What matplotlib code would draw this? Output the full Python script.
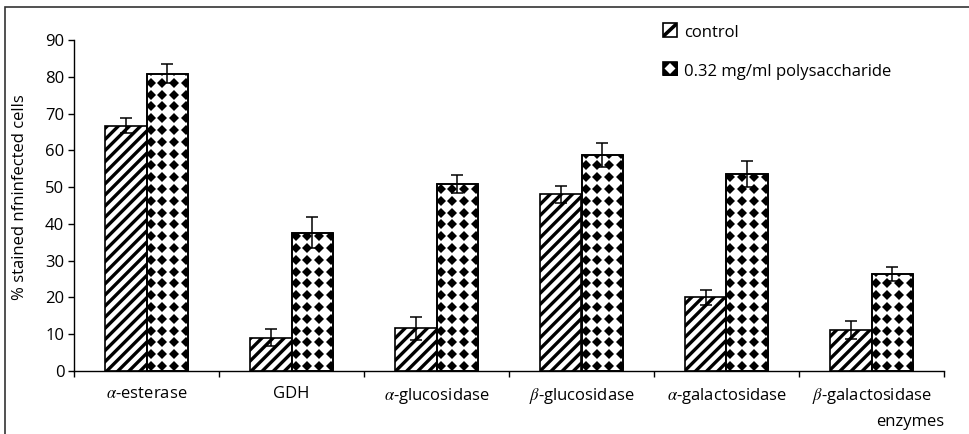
import numpy as np
import matplotlib
matplotlib.use("Agg")
import matplotlib.pyplot as plt
from matplotlib.patches import Rectangle
from matplotlib.legend_handler import HandlerBase

plt.rcParams['font.family'] = ['Open Sans', 'DejaVu Sans']
plt.rcParams['mathtext.fontset'] = 'stix'
plt.rcParams['hatch.linewidth'] = 2.4

# enzyme groups and % stained cells (mean, error)
enzymes = [r'$\alpha$-esterase', 'GDH', r'$\alpha$-glucosidase',
           r'$\beta$-glucosidase', r'$\alpha$-galactosidase', r'$\beta$-galactosidase']
control = [66.7, 9.1, 11.6, 48.0, 20.0, 11.1]
control_err = [2.0, 2.3, 3.1, 2.2, 2.0, 2.5]
poly = [80.8, 37.6, 50.8, 58.8, 53.6, 26.4]
poly_err = [2.6, 4.2, 2.5, 3.3, 3.5, 1.9]
series = ['control', '0.32 mg/ml polysaccharide']
yticks = [0, 10, 20, 30, 40, 50, 60, 70, 80, 90]

FS = 12
W, H = 970, 434
fig = plt.figure(figsize=(W / 100, H / 100), dpi=100)
ax = fig.add_axes([74 / W, 1 - 371 / H, 870 / W, 331 / H])

x = np.arange(len(enzymes))
bw = 0.283

err_kw = dict(ecolor='black', elinewidth=1.1, capsize=4, capthick=1.1)
b1 = ax.bar(x - bw / 2, control, bw, yerr=control_err, color='white',
            edgecolor='black', linewidth=1.2, hatch='///', error_kw=err_kw, zorder=2)
b2 = ax.bar(x + bw / 2, poly, bw, yerr=poly_err, color='white',
            edgecolor='black', linewidth=1.2, error_kw=err_kw, zorder=2)

ax.set_xlim(-0.5, len(enzymes) - 0.5)
ax.set_ylim(0, 90)

# diamond fill for the polysaccharide bars
px_x = 870 / len(enzymes)
px_y = 331 / 90
step = 11.8
for bar in b2:
    x0 = bar.get_x()
    x1 = x0 + bar.get_width()
    top = bar.get_height()
    xs = np.arange(x0 + 4 / px_x, x1 + step / px_x, step / px_x)
    ys = np.arange(5 / px_y, top + step / px_y, step / px_y)
    gx, gy = np.meshgrid(xs, ys)
    pts, = ax.plot(gx.ravel(), gy.ravel(), 'D', color='black', ms=5.2,
                   mew=0, zorder=2.5)
    pts.set_clip_path(bar)
    # redraw the outline above the diamonds
    ax.add_patch(Rectangle((x0, 0), bar.get_width(), top, fill=False,
                           edgecolor='black', linewidth=1.2, zorder=2.6))

ax.spines['top'].set_visible(False)
ax.spines['right'].set_visible(False)
ax.spines['left'].set_linewidth(1.0)
ax.spines['bottom'].set_linewidth(1.0)

ax.set_yticks(yticks)
ax.tick_params(axis='y', direction='out', length=4, width=1, pad=3, labelsize=FS)
ax.set_xticks(np.arange(-0.5, len(enzymes), 1.0))
ax.set_xticklabels([])
ax.set_xticks(x, minor=True)
ax.set_xticklabels(enzymes, minor=True, fontsize=FS)
ax.tick_params(axis='x', which='major', direction='out', length=4, width=1)
ax.tick_params(axis='x', which='minor', length=0, pad=11)

fig.text(20 / W, 1 - 197 / H, '% stained nfninfected cells', rotation=90,
         ha='center', va='center', fontsize=FS)
fig.text(944 / W, 1 - 422 / H, 'enzymes', ha='right', va='center', fontsize=FS)


class StripeHandler(HandlerBase):
    def create_artists(self, legend, orig_handle, xd, yd, width, height,
                       fontsize, trans):
        box = Rectangle((xd, yd), width, height, facecolor='white',
                        edgecolor='black', lw=1.2, transform=trans)
        line = plt.Line2D([xd, xd + width], [yd, yd + height], color='black',
                          lw=2.6, transform=trans)
        line.set_clip_path(box)
        return [box, line]


class DiamondHandler(HandlerBase):
    def create_artists(self, legend, orig_handle, xd, yd, width, height,
                       fontsize, trans):
        box = Rectangle((xd, yd), width, height, facecolor='white',
                        edgecolor='black', lw=1.2, transform=trans)
        arts = [box]
        for cx in (xd, xd + width):
            for cy in (yd, yd + height):
                d = plt.Line2D([cx], [cy], marker='D', color='black', ms=8,
                               mew=0, transform=trans)
                d.set_clip_path(box)
                arts.append(d)
        return arts


handles = [Rectangle((0, 0), 1, 1), Rectangle((0, 0), 1, 1)]
leg = ax.legend(handles, series, loc='upper left',
                bbox_to_anchor=((648 - 74) / 870, 1 + 30 / 331),
                frameon=False, fontsize=FS, handlelength=0.85, handleheight=0.85,
                handletextpad=0.4, labelspacing=1.35,
                handler_map={handles[0]: StripeHandler(),
                             handles[1]: DiamondHandler()})

fig.add_artist(Rectangle((5 / W, -0.2), 1.2, 1.2 - 7 / H, fill=False,
                         edgecolor='#333333', linewidth=1.2,
                         transform=fig.transFigure))

fig.savefig('out.png', dpi=100)
